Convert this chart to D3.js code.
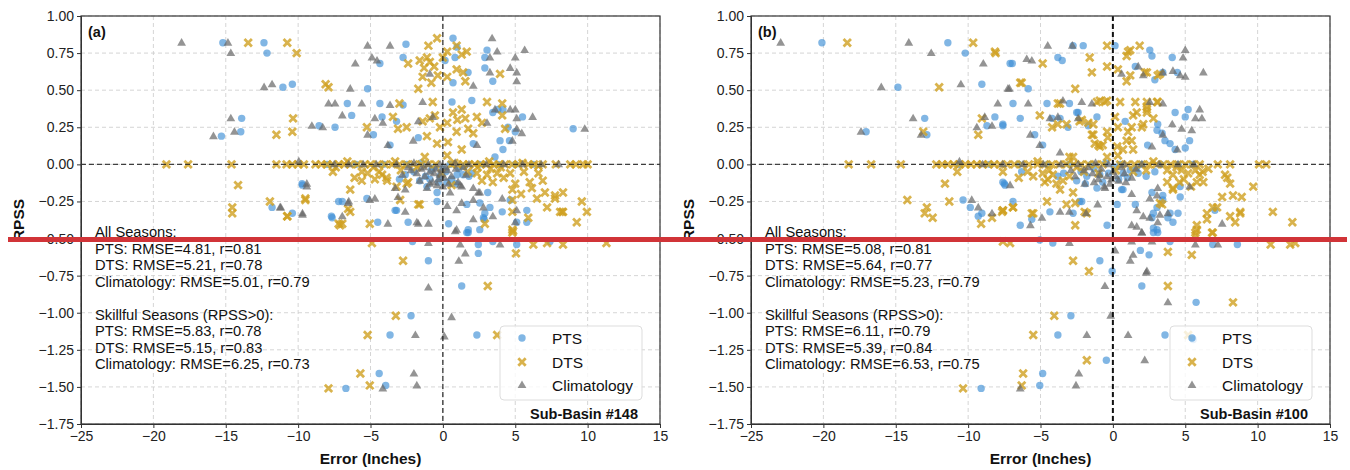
<!DOCTYPE html>
<meta charset="utf-8">
<style>
body { margin: 0; background: #fff; }
text { font-family: "Liberation Sans", Arial, sans-serif; fill: #111; }
.axis path, .axis line { stroke: #333; }
.axis text { font-size: 14px; fill: #222; }
</style>
<script src="https://d3js.org/d3.v7.min.js"></script>
<body>
<script>
// tick values
const xTicks = [-25, -20, -15, -10, -5, 0, 5, 10, 15];
const yTicks = [1.0, 0.75, 0.5, 0.25, 0, -0.25, -0.5, -0.75, -1.0, -1.25, -1.5, -1.75];

const seriesNames = ['PTS', 'DTS', 'Climatology'];
const panelLabels = ['(a)', '(b)'];
const basinLabels = ['Sub-Basin #148', 'Sub-Basin #100'];

const statsA = ['All Seasons:', 'PTS: RMSE=4.81, r=0.81', 'DTS: RMSE=5.21, r=0.78', 'Climatology: RMSE=5.01, r=0.79', '',
  'Skillful Seasons (RPSS>0):', 'PTS: RMSE=5.83, r=0.78', 'DTS: RMSE=5.15, r=0.83', 'Climatology: RMSE=6.25, r=0.73'];
const statsB = ['All Seasons:', 'PTS: RMSE=5.08, r=0.81', 'DTS: RMSE=5.64, r=0.77', 'Climatology: RMSE=5.23, r=0.79', '',
  'Skillful Seasons (RPSS>0):', 'PTS: RMSE=6.11, r=0.79', 'DTS: RMSE=5.39, r=0.84', 'Climatology: RMSE=6.53, r=0.75'];

// panel (a) : [error, rpss]
const ptsA = [
[-15.2,0.82],[-12.36,0.82],[-12.15,0.75],[-11.05,0.52],[-10.4,0.54],[-15.3,0.19],[-13.9,0.31],[-13.96,0.22],[-9.73,-0.13],[-11.8,-0.29],[-10.4,-0.33],[-7.7,-0.35],[-8.55,0.26],[-7.45,0.25],[-7.2,-0.25],
[-2.55,0.81],[-2.75,0.72],[-4.35,0.68],[-5.2,0.51],[-6.6,0.41],[-6.3,0.33],[-4.35,0.41],[-4.2,0.32],[-3.2,0.29],[-2.75,0.40],[-4.8,0.20],[-3.65,0.13],[-1.7,0.18],[0.63,0.42],[0.15,0.70],[0.7,0.85],[0.98,0.79],[0.84,0.72],[1.74,0.62],[0.7,0.55],[2.9,0.72],[3.05,0.77],[2.9,0.65],[3.45,0.56],[2.0,0.43],[3.45,0.35],[3.8,0.37],[4.15,0.37],[5.5,0.32],[4.5,0.25],[5.0,0.22],[3.95,0.16],[4.6,0.16],[2.1,0.14],[4.15,0.10],[9.0,0.24],[3.6,0.05],
[0.98,-0.07],[1.4,-0.07],[-0.2,-0.08],[0.28,-0.12],[-1.1,-0.15],[-0.4,-0.19],[3.1,-0.19],[-6.95,-0.25],[-3.2,-0.31],[-2.4,-0.39],[-4.5,-0.39],[1.65,-0.27],[2.55,-0.26],[2.9,-0.33],[4.1,-0.32],[4.65,-0.24],[5.8,-0.31],[1.75,-0.44],[2.8,-0.36],[5.1,-0.39],
[-9.7,-0.14],[-5.25,-0.23],[-7.65,-0.36],[-3.3,-0.31],[-0.4,-0.25],[0.4,-0.40],[1.75,-0.46],[2.55,-0.44],[3.25,-0.29],[2.85,-0.37],[5.8,-0.39],[-2.1,-0.52],[2.45,-0.54],[3.45,-0.52],[5.1,-0.54],[7.4,-0.52],[-1.0,-0.65],[2.45,-0.60],[1.3,-0.82],[-2.2,-1.02],[-3.65,-1.15],[2.35,-1.15],[-4.4,-1.41],[-3.95,-1.49],[-6.7,-1.51],[1.65,-0.46],
[-8.0,0],[-6.0,0],[-4.1,0],[-2.5,0],[-1.5,0.01],[-0.6,-0.02],[0.5,0],[1.5,-0.01],[2.5,0],[3.8,0],[5.0,0],[6.2,0],[-2.0,-0.05],[-1.2,-0.08],[-0.8,-0.04],[0.2,-0.05],[0.6,-0.1],[1.1,-0.03],[-3.0,-0.1],[2.0,-0.06],[-1.6,-0.11],
[-0.9,-0.1],[0.0,-0.03],[1.8,-0.08],[-2.6,-0.07],[0.9,-0.13],[-0.3,-0.12]
];
const dtsA = [
[-13.45,0.82],[-10.75,0.82],[-10.1,0.75],[-8.1,0.54],[-7.9,0.52],[-10.35,0.31],[-10.4,0.22],[-11.5,0.20],[-14.15,-0.14],[-14.55,-0.29],[-14.55,-0.33],[-11.95,-0.25],[-10.75,-0.35],[-9.5,-0.24],[-7.6,-0.05],[-7.2,-0.40],
[-6.55,-0.30],[-6.4,-0.32],[-6.95,-0.40],[-6.4,-0.17],[-5.6,-0.05],[-5.6,-0.11],[-5.25,0.25],[-5.05,-0.40],[-4.2,-0.07],[-3.85,-0.11],[-3.2,-0.15],[-2.95,-0.24],[-2.4,-0.12],[-1.7,-0.27],[-3.45,0.32],[-3.0,0.41],[-2.5,0.25],[-2.4,0.68],[-1.6,0.70],[-1.1,0.72],[-0.9,0.69],[-1.4,0.59],[-1.7,0.51],[-1.0,0.80],[-0.4,0.85],[0.3,0.76],[0.95,0.80],[1.3,0.74],[1.65,0.76],[0.95,0.64],[1.4,0.62],[1.55,0.56],[0.3,0.59],[-0.35,0.60],[-0.7,0.42],[-0.55,0.33],[0.3,0.28],[-0.9,0.31],[-1.4,0.29],[-1.1,0.19],[-0.4,0.14],[0.35,0.15],[-1.25,0.05],[0.3,0.06],[1.3,0.10],[1.3,0.37],[1.55,0.31],[1.75,0.24],[2.1,0.21],[2.35,0.32],[0.95,0.22],[3.05,0.42],[4.1,0.41],[4.1,0.33],[4.3,0.24],[3.95,0.61],[-3.1,0.24],
[2.35,-0.06],[2.7,-0.11],[3.05,-0.07],[3.45,-0.12],[3.75,-0.06],[4.65,-0.06],[5.0,-0.13],[4.8,-0.17],[6.0,-0.12],[6.15,-0.16],[6.9,-0.11],[7.05,-0.19],[7.75,-0.21],[8.3,-0.19],[7.2,-0.29],[8.1,-0.32],[8.3,-0.32],[9.6,-0.25],[9.95,-0.32],[9.25,-0.39],[4.8,-0.24],[4.8,-0.32],[5.9,-0.36],[2.9,-0.40],[4.8,-0.44],[-1.6,-0.27],[-7.1,-0.41],[-2.5,-0.13],
[-4.9,-0.53],[-2.75,-0.65],[3.1,-0.82],[-3.25,-1.02],[-5.2,-1.15],[3.75,-1.15],[-5.7,-1.41],[-5.05,-1.49],[5.05,-0.60],[6.25,-0.54],[7.2,-0.53],[8.3,-0.54],[11.3,-0.53],[4.8,-0.46],[-7.9,-1.51],
[-9.5,-0.23],[-10.75,-0.35],[8.25,-0.32],[7.75,-0.23],[4.85,-0.45],
[-4.4,-0.05],[-3.9,-0.09],[-5.2,-0.06],[-6.1,-0.09],[-2.9,-0.04],[-0.1,-0.06],[0.6,-0.14],[1.7,-0.05],[5.6,-0.05],[6.6,-0.06],[5.4,-0.2],[6.5,-0.23],
[-0.6,0.66],[-1.3,0.65],[0.0,0.72],[-0.8,0.55],[0.7,0.35],[1.0,0.30],[-0.2,0.25],[2.7,0.28],[3.3,-0.03],[4.2,-0.09],[-4.7,-0.1],
[-19.1,0],[-17.6,0],[-14.6,0],[-11.5,0],[-10.8,0],[-10.4,0],[-10.0,0],[-9.6,0],[-8.8,0],[-8.4,0],[-8.0,0],[-7.6,0],[-7.2,0],[-6.8,0],[-6.4,0],[-5.9,0],[-5.4,0],[-5.0,0],[-4.5,0],[-4.0,0],[-3.5,0],[-3.0,0],[-2.5,0],[-2.0,0],[-1.5,0],[-1.0,0],[-0.5,0],[0.6,0],[1.0,0],[1.4,0],[1.8,0],[2.2,0],[2.6,0],[3.0,0],[3.5,0],[3.9,0],[4.3,0],[4.8,0],[5.2,0],[5.9,0],[6.3,0],[6.9,0],[7.8,0],[8.8,0],[9.2,0],[9.7,0],[10.0,0],
[-7.4,-0.02],[-6.6,0.02],[-4.8,-0.02],[-3.3,0.02],[-1.8,-0.02],[0.8,0.01],[2.4,-0.02],[3.2,0.02],[4.0,-0.02],[5.5,0.01],[6.6,-0.01]
];
const climA = [
[-18.05,0.82],[-14.85,0.82],[-14.65,0.75],[-12.35,0.52],[-11.8,0.54],[-15.85,0.19],[-14.65,0.31],[-14.4,0.22],[-9.4,-0.13],[-11.25,-0.29],[-9.7,-0.33],[-9.05,0.26],[-8.3,0.25],[-7.9,0.41],[-7.45,0.41],[-9.95,0.02],
[-5.2,0.80],[-3.65,0.80],[-6.05,0.68],[-4.9,0.72],[-4.55,0.70],[-6.4,0.51],[-5.6,0.41],[-6.95,0.33],[-4.7,0.31],[-4.15,0.28],[-3.65,0.40],[-1.4,0.42],[-0.9,0.61],[-5.2,0.20],[-3.8,0.13],[-2.05,0.16],[-1.7,0.29],[-0.7,0.32],[3.4,0.85],[3.75,0.76],[5.65,0.77],[5.0,0.72],[4.65,0.65],[5.1,0.62],[5.1,0.56],[3.25,0.72],[3.25,0.62],[2.1,0.53],[3.6,0.37],[4.65,0.37],[5.0,0.37],[5.1,0.31],[6.2,0.32],[3.05,0.28],[5.1,0.24],[5.45,0.21],[4.8,0.16],[2.35,0.13],[9.8,0.24],[0.85,0.01],
[-1.8,-0.06],[-1.25,-0.08],[-0.9,-0.05],[-0.7,-0.12],[-0.2,-0.07],[-0.4,-0.14],[0.0,-0.15],[-1.6,-0.11],[1.05,-0.12],[1.3,-0.15],[0.5,-0.19],[2.1,-0.16],[2.45,-0.19],[-3.3,-0.16],[-2.6,-0.17],[-3.1,-0.22],[-6.55,-0.26],[-5.05,-0.24],[-2.6,-0.32],[-3.8,-0.40],[-1.7,-0.40],[-1.0,-0.40],[0.95,-0.31],[1.3,-0.26],[2.1,-0.24],[4.1,-0.23],[5.1,-0.31],[5.0,-0.39],[0.95,-0.44],[3.45,-0.35],
[-4.7,-0.23],[-6.5,-0.25],[-1.8,-0.39],[-6.95,-0.35],[-9.4,-0.15],[-9.7,-0.34],[-11.2,-0.29],[0.3,-0.28],[0.85,-0.45],[1.2,-0.54],[1.55,-0.60],[1.1,-0.65],[-1.0,-0.83],[2.1,-0.37],[2.8,-0.29],[3.95,-0.54],[1.2,-0.14],[2.55,-0.19],
[-1.0,-0.53],[0.6,-1.03],[-1.9,-1.15],[0.1,-1.16],[-2.0,-1.41],[-1.8,-1.49],[-4.15,-1.51],
[-7.5,0],[-6.5,0],[-5.5,0],[-4.6,0],[-3.2,0],[-2.0,0.01],[-1.0,0],[-0.2,0],[1.8,0],[3.0,0],[4.2,0],[5.5,0],[6.8,0],[8.0,0],[-2.2,-0.04],[-1.5,-0.03],[-0.5,-0.03],[0.3,-0.04],[0.6,-0.08],[-0.3,-0.1],[-2.8,-0.07],[1.6,-0.07],[-1.1,-0.16],[0.2,-0.02],
[-1.3,-0.02],[-0.6,-0.06],[0.1,-0.09],[0.9,-0.03],[-2.4,-0.02],[1.4,-0.02],[-0.1,-0.04],[-0.9,-0.13],[0.4,-0.13]
];

// panel (b)
const ptsB = [
[-20.1,0.82],[-14.85,0.52],[-17.05,0.22],[-13.0,0.31],[-12.85,0.20],[-11.4,0.82],[-10.2,0.75],[-9.05,0.54],[-8.7,0.26],[-8.15,0.32],[-7.6,0.26],[-7.5,-0.13],[-10.35,-0.24],[-9.85,-0.29],[-9.3,-0.35],[-9.05,-0.33],[-10.6,0.0],[-7.1,0.68],
[-6.95,0.68],[-2.05,0.80],[-2.75,0.80],[-3.8,0.72],[-3.5,0.70],[-6.9,0.41],[-4.55,0.41],[-6.4,0.31],[-7.6,0.27],[-5.4,0.20],[-4.85,0.13],[-3.65,0.31],[-3.1,0.25],[-2.4,0.35],[-1.7,0.26],[-1.1,0.32],[0.15,0.80],[1.55,0.66],[2.55,0.77],[2.7,0.73],[2.9,0.57],[3.45,0.62],[4.1,0.72],[4.45,0.62],[4.3,0.35],[5.0,0.32],[5.2,0.37],[3.1,0.27],[3.05,0.23],[3.4,0.21],[3.6,0.16],[3.95,0.14],[4.3,0.10],[5.3,0.16],[2.4,0.13],[0.85,0.29],[5.0,0.11],
[-5.85,0.51],[-2.5,0.35],[-4.2,0.31],[-3.0,0.41],
[1.65,-0.02],[0.7,-0.06],[1.75,-0.06],[-0.9,-0.07],[-1.8,-0.08],[-2.5,-0.11],[-1.1,-0.16],[-7.6,-0.12],[-6.3,-0.05],[-3.8,-0.08],[-6.9,-0.25],[-4.35,-0.32],[-2.15,-0.25],[-5.6,-0.37],[-6.4,-0.41],[-0.4,-0.41],[0.3,-0.27],[0.6,-0.17],[2.7,-0.19],[3.05,-0.29],[2.8,-0.33],[3.45,-0.24],[3.8,-0.36],[4.15,-0.39],[3.05,-0.44],[4.65,-0.15],
[-7.45,-0.14],[-2.75,-0.33],[-2.3,-0.25],[1.55,-0.27],[2.7,-0.36],[2.8,-0.43],[3.1,-0.46],[3.45,-0.21],[3.95,-0.33],[4.5,-0.33],[4.65,-0.22],[0.7,-0.17],[-0.9,-0.65],[-0.05,-0.72],[1.9,-0.58],[2.5,-0.61],[2.0,-0.82],[5.75,-0.93],[7.05,-0.31],[6.9,-0.54],[8.6,-0.54],[3.95,-0.52],
[-5.05,-0.51],[-4.15,-0.53],[3.6,-1.15],[5.55,-1.18],[-2.9,-1.02],[-3.8,-1.15],[-0.45,-1.32],[-4.85,-1.41],[-5.05,-1.49],[2.8,-0.46],[-9.1,-1.51],
[-8.5,0],[-6.5,0],[-4.5,0],[-3.0,0],[-1.5,0],[-0.5,0.01],[0.5,0],[2.0,0],[3.3,0],[4.5,0],[5.5,0],[-2.2,-0.05],[-1.3,-0.03],[-0.3,-0.06],[0.4,-0.1],[1.2,-0.04],[2.3,-0.08],[-3.4,-0.06],[-0.7,-0.12],
[1.0,-0.09],[0.1,-0.02],[-1.9,-0.13],[2.9,-0.05]
];
const dtsB = [
[-18.35,0.82],[-9.65,0.82],[-8.1,0.75],[-12.0,0.52],[-13.1,0.22],[-9.05,0.31],[-9.3,0.20],[-10.75,-0.05],[-11.6,-0.13],[-14.2,-0.24],[-11.3,-0.25],[-12.85,-0.29],[-13.0,-0.33],[-12.45,-0.36],[-9.1,-0.40],[-8.35,-0.36],[-7.6,-0.31],[-7.6,-0.05],
[-4.85,0.68],[-0.4,0.80],[-1.6,0.72],[-1.45,0.62],[-0.4,0.66],[1.05,0.76],[0.95,0.73],[1.85,0.80],[0.95,0.56],[1.2,0.60],[2.2,0.62],[3.1,0.60],[0.35,0.64],[-6.3,0.55],[-2.6,0.51],[-3.65,0.41],[-5.05,0.33],[-4.2,0.25],[-3.8,0.27],[-2.3,0.29],[-1.1,0.42],[-0.9,0.43],[-0.4,0.43],[-1.45,0.20],[-1.25,0.14],[-0.9,0.12],[-0.4,0.22],[-0.35,0.18],[0.15,0.32],[0.35,0.25],[0.5,0.42],[1.4,0.33],[1.55,0.42],[2.35,0.39],[2.35,0.35],[2.8,0.31],[3.05,0.42],[1.3,0.25],[2.0,0.25],[0.95,0.16],[1.4,0.10],[0.3,0.12],[0.35,0.06],[-2.75,0.05],
[-4.85,-0.06],[-4.7,-0.12],[-3.45,-0.11],[-4.15,-0.07],[-3.65,-0.17],[-2.75,-0.19],[-2.6,-0.26],[-1.95,-0.32],[-2.6,-0.41],[-5.6,-0.33],[-6.9,-0.29],[-7.6,-0.31],[-4.55,-0.25],[-5.5,-0.08],[3.75,-0.04],[4.15,-0.07],[4.75,-0.04],[3.75,-0.12],[4.15,-0.17],[5.7,-0.04],[6.0,-0.07],[6.25,-0.12],[5.8,-0.12],[3.25,-0.26],[6.5,-0.33],[6.9,-0.29],[7.55,-0.22],[8.1,-0.13],[7.75,-0.07],[8.3,-0.21],[8.8,-0.32],[8.1,-0.35],[6.5,-0.37],[5.8,-0.44],[9.7,-0.15],[11.05,-0.32],[12.4,-0.39],
[7.9,-0.09],[8.9,-0.22],[7.2,-0.29],[5.8,-0.41],[5.7,-0.46],[6.9,-0.46],[8.8,-0.33],[8.45,-0.39],[3.8,-0.59],[5.45,-0.61],[-2.75,-0.65],[-1.65,-0.72],[3.8,-0.82],[8.3,-0.93],[-5.5,-0.33],[-7.65,-0.32],[-6.9,-0.29],[-7.6,-0.52],[-7.1,-0.53],[-3.2,-0.27],[-1.8,-0.33],[3.4,-0.27],[4.15,-0.16],
[-4.05,-1.02],[-5.5,-1.15],[5.2,-1.15],[-1.8,-1.32],[-6.2,-1.41],[-6.3,-1.49],[10.9,-0.54],[12.25,-0.54],[12.6,-0.53],[5.7,-0.48],[6.85,-0.46],[-10.35,-1.51],
[-8.15,0.76],[-6.4,0.55],[1.2,0.77],[2.35,0.62],[3.25,0.61],[2.35,0.42],[3.1,0.42],[1.65,0.35],[2.35,0.37],[2.1,0.27],[1.05,0.22],[1.3,0.16],[0.7,0.10],[-1.35,0.20],[-1.0,0.13],[-0.7,0.13],[-1.35,0.27],[-0.55,0.42],[-1.7,0.28],[-2.15,0.30],[-3.2,0.27],[-3.8,0.41],[-3.0,0.05],[-0.4,0.05],
[-18.25,0],[-16.7,0],[-14.65,0],[-12.2,0],[-11.8,0],[-11.4,0],[-11.0,0],[-10.6,0],[-10.2,0],[-9.8,0],[-9.4,0],[-9.0,0],[-8.6,0],[-8.2,0],[-7.8,0],[-7.3,0],[-6.8,0],[-6.3,0],[-5.8,0],[-5.2,0],[-4.7,0],[-4.2,0],[-3.7,0],[-3.2,0],[-2.7,0],[-2.2,0],[-1.7,0],[-1.2,0],[-0.7,0],[0.5,0],[1.0,0],[1.5,0],[2.0,0],[2.5,0],[3.0,0],[3.5,0],[4.0,0],[4.5,0],[5.0,0],[5.5,0],[6.0,0],[7.25,0],[8.1,0],[10.1,0],[10.6,0],
[-5.9,-0.05],[-4.4,-0.04],[-2.0,-0.05],[-1.0,-0.06],[0.2,-0.04],[1.4,-0.05],[2.3,-0.04],[4.4,-0.02],[5.2,-0.06],[6.6,-0.03],[-6.5,-0.09],[-3.0,-0.08],
[-4.5,-0.1],[-3.9,-0.13],[4.9,-0.1],[5.4,-0.15],[6.2,-0.05],[4.6,-0.12],[-5.2,0.02],[-2.5,-0.02],[2.8,0.02]
];
const climB = [
[-22.95,0.82],[-14.1,0.82],[-12.55,0.75],[-16.0,0.52],[-10.5,0.54],[-17.4,0.22],[-13.8,0.31],[-13.25,0.20],[-8.95,0.68],[-7.95,0.41],[-9.4,0.25],[-8.85,0.32],[-8.35,0.26],[-7.25,0.51],[-9.75,-0.24],[-9.3,-0.29],[-8.35,-0.33],[-10.6,0.02],
[-4.5,0.80],[-5.95,0.71],[-5.6,0.70],[-2.8,0.80],[-7.15,0.51],[-5.85,0.41],[-3.45,0.43],[-2.15,0.42],[-1.45,0.41],[-4.35,0.31],[-3.8,0.32],[-2.4,0.31],[-5.7,0.20],[-5.05,0.13],[-3.65,0.08],[5.0,0.77],[4.85,0.72],[3.45,0.62],[4.15,0.63],[4.65,0.60],[5.0,0.59],[6.25,0.62],[6.0,0.37],[6.15,0.31],[5.7,0.31],[4.75,0.24],[5.45,0.23],[4.1,0.27],[3.45,0.20],[4.45,0.10],[2.7,0.12],[3.45,0.41],[2.55,0.42],[2.1,0.60],[1.75,0.66],[0.6,0.61],
[-7.1,-0.14],[-5.7,-0.41],[-4.9,-0.36],[-3.65,-0.32],[-1.95,-0.13],[-0.55,-0.16],[-1.05,-0.27],[-1.85,-0.33],[-3.0,-0.32],[1.3,-0.20],[1.3,-0.41],[1.65,-0.42],[2.0,-0.46],[2.1,-0.35],[1.65,-0.31],[2.55,-0.23],[3.05,-0.21],[3.1,-0.39],[3.25,-0.34],[2.55,-0.36],[1.3,-0.52],[2.7,-0.52],[1.2,-0.65],[1.4,-0.61],[2.35,-0.72],[0.15,-0.58],[-0.55,-0.82],[3.8,-0.93],[5.7,-0.54],[7.25,-0.54],[7.55,-0.40],[5.3,-0.15],[3.1,-0.16],[3.8,-0.33],
[-3.0,-0.53],[-0.15,-1.02],[-1.8,-1.15],[1.05,-1.15],[2.2,-1.32],[-2.35,-1.41],[-2.55,-1.49],[-6.4,-1.51],[2.0,-0.46],[2.3,-0.73],
[-9.0,0],[-7.6,0],[-6.2,0],[-4.8,0],[-3.6,0],[-2.4,0],[-1.2,0.01],[-0.3,0],[0.8,0],[2.0,0],[3.2,0],[4.5,0],[5.6,0],[-2.0,-0.04],[-1.4,-0.06],[-0.8,-0.03],[-0.4,-0.08],[0.0,-0.05],[0.4,-0.11],[-0.2,-0.13],[-1.0,-0.1],[0.8,-0.06],[-2.6,-0.08],[1.3,-0.09],[-0.6,-0.15],
[-1.7,-0.02],[-0.9,-0.07],[0.2,-0.08],[0.6,-0.02],[-2.9,-0.04],[1.6,-0.03],[-0.1,-0.1],[-1.3,-0.12],[0.9,-0.12]
];

const W = 1350, H = 470;
const plotW = 579, plotH = 408, plotTop = 16;
const colors = { pts: '#3d8fd6', dts: '#d0a020', clim: '#666666' };

const svg = d3.select('body').append('svg')
  .attr('width', W).attr('height', H);

const triPath = 'M0,-4.6L4.4,3.0L-4.4,3.0Z';
const xPath = 'M-3.7,-3.7L3.7,3.7M-3.7,3.7L3.7,-3.7';

function drawPts(g, data, x, y) {
  g.selectAll('circle.pts').data(data).enter().append('circle')
    .attr('class', 'pts')
    .attr('cx', d => x(d[0])).attr('cy', d => y(d[1]))
    .attr('r', 3.7)
    .style('fill', colors.pts).style('opacity', 0.65);
}
function drawDts(g, data, x, y) {
  g.selectAll('path.dts').data(data).enter().append('path')
    .attr('class', 'dts')
    .attr('d', xPath)
    .attr('transform', d => `translate(${x(d[0])},${y(d[1])})`)
    .style('stroke', colors.dts).style('stroke-width', 2.8).style('fill', 'none')
    .style('opacity', 0.8);
}
function drawClim(g, data, x, y) {
  g.selectAll('path.clim').data(data).enter().append('path')
    .attr('class', 'clim')
    .attr('d', triPath)
    .attr('transform', d => `translate(${x(d[0])},${y(d[1])})`)
    .style('fill', colors.clim).style('opacity', 0.7);
}

function panel(left, pts, dts, clim, label, basin, stats, thickZero) {
  const x = d3.scaleLinear().domain([-25, 15]).range([left, left + plotW]);
  const y = d3.scaleLinear().domain([-1.75, 1.0]).range([plotTop + plotH, plotTop]);
  const g = svg.append('g');

  // grid
  g.selectAll('line.vg').data(xTicks).enter().append('line')
    .attr('x1', d => x(d)).attr('x2', d => x(d))
    .attr('y1', plotTop).attr('y2', plotTop + plotH)
    .style('stroke', '#d0d0d0').style('stroke-width', 0.9).style('stroke-dasharray', '4,3');
  g.selectAll('line.hg').data(yTicks).enter().append('line')
    .attr('x1', left).attr('x2', left + plotW)
    .attr('y1', d => y(d)).attr('y2', d => y(d))
    .style('stroke', '#d0d0d0').style('stroke-width', 0.9).style('stroke-dasharray', '4,3');

  drawPts(g, pts, x, y);
  drawDts(g, dts, x, y);
  drawClim(g, clim, x, y);

  // reference lines
  g.append('line')
    .attr('x1', left).attr('x2', left + plotW).attr('y1', y(0)).attr('y2', y(0))
    .style('stroke', '#222').style('stroke-width', 1.1).style('stroke-dasharray', '5,3').style('opacity', 0.85);
  g.append('line')
    .attr('x1', x(0)).attr('x2', x(0)).attr('y1', plotTop).attr('y2', plotTop + plotH)
    .style('stroke', '#111').style('stroke-width', thickZero ? 2 : 1.1).style('stroke-dasharray', '5,3');

  // axes
  g.append('g').attr('class', 'axis')
    .attr('transform', `translate(0,${plotTop + plotH})`)
    .call(d3.axisBottom(x).tickValues(xTicks).tickSize(4).tickPadding(3).tickFormat(d3.format('d')));
  g.append('g').attr('class', 'axis')
    .attr('transform', `translate(${left},0)`)
    .call(d3.axisLeft(y).tickValues(yTicks).tickSize(4).tickPadding(3).tickFormat(d3.format('.2f')));
  g.append('rect')
    .attr('x', left).attr('y', plotTop).attr('width', plotW).attr('height', plotH)
    .style('fill', 'none').style('stroke', '#333').style('stroke-width', 1.2);

  // labels
  g.append('text').attr('x', left + plotW / 2).attr('y', 464)
    .attr('text-anchor', 'middle').style('font-weight', 'bold').style('font-size', '15.5px')
    .text('Error (Inches)');
  g.append('text')
    .attr('transform', `translate(${left - 57},${plotTop + plotH / 2}) rotate(-90)`)
    .attr('text-anchor', 'middle').style('font-weight', 'bold').style('font-size', '15.5px')
    .text('RPSS');
  g.append('text').attr('x', left + 7).attr('y', 37)
    .style('font-weight', 'bold').style('font-size', '14.5px').text(label);

  g.selectAll('text.stat').data(stats).enter().append('text')
    .attr('class', 'stat')
    .attr('x', left + 14).attr('y', (d, i) => 237 + i * 16.5)
    .style('font-size', '14.7px').text(d => d);

  g.append('text').attr('x', left + plotW - 22).attr('y', 419)
    .attr('text-anchor', 'end').style('font-weight', 'bold').style('font-size', '14.5px')
    .text(basin);

  // legend
  const lg = g.append('g').attr('transform', `translate(${left + 419},326)`);
  lg.append('rect').attr('width', 142).attr('height', 74).attr('rx', 4)
    .style('fill', '#fff').style('fill-opacity', 0.8).style('stroke', '#ddd');
  const ly = [12, 36, 59];
  lg.append('circle').attr('cx', 22).attr('cy', ly[0]).attr('r', 3.7)
    .style('fill', colors.pts).style('opacity', 0.65);
  lg.append('path').attr('d', xPath).attr('transform', `translate(22,${ly[1]})`)
    .style('stroke', colors.dts).style('stroke-width', 2.8).style('opacity', 0.8);
  lg.append('path').attr('d', triPath).attr('transform', `translate(22,${ly[2]})`)
    .style('fill', colors.clim).style('opacity', 0.7);
  lg.selectAll('text').data(seriesNames).enter().append('text')
    .attr('x', 52).attr('y', (d, i) => ly[i] + 5.5)
    .style('font-size', '15.5px').text(d => d);
}

panel(81, ptsA, dtsA, climA, panelLabels[0], basinLabels[0], statsA, false);
panel(751, ptsB, dtsB, climB, panelLabels[1], basinLabels[1], statsB, true);

// red marker line across the figure
svg.append('rect').attr('x', 8).attr('y', 237).attr('width', 1339).attr('height', 5)
  .style('fill', '#d13438');
</script>
</body>
</html>
